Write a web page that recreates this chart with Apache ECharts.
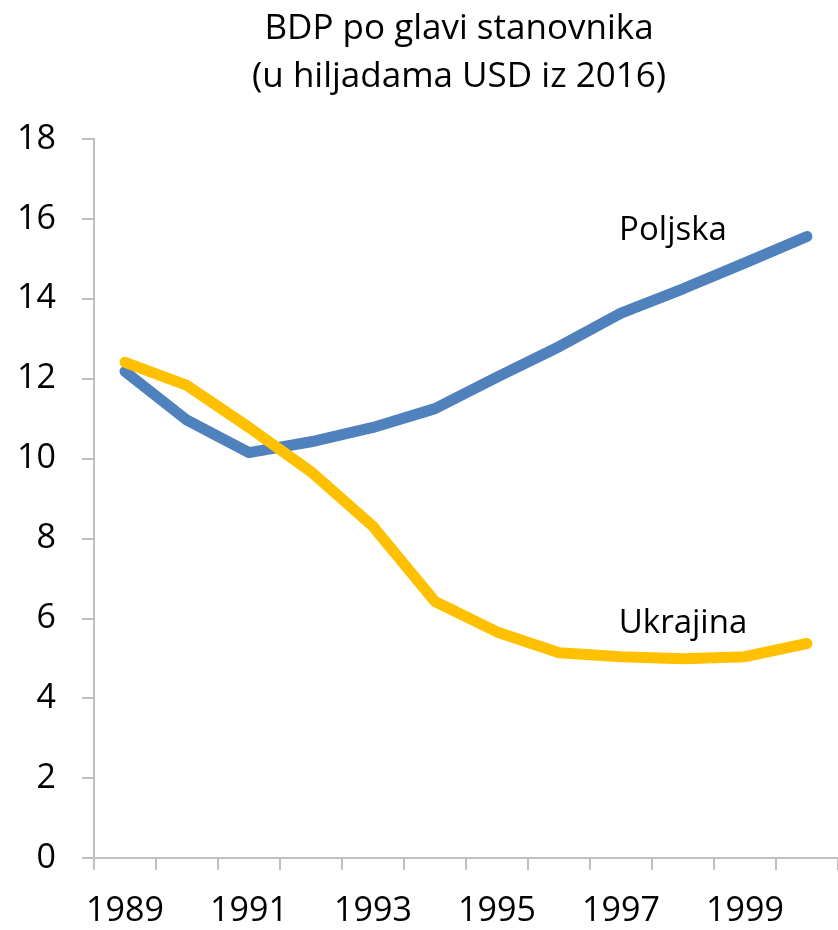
<!DOCTYPE html>
<html>
<head>
<meta charset="utf-8">
<script src="https://cdn.jsdelivr.net/npm/echarts@6/dist/echarts.min.js"></script>
<style>
  html, body { margin: 0; padding: 0; background: #fff; }
  #chart { width: 838px; height: 930px; }
</style>
</head>
<body>
<div id="chart"></div>
<script>
// GDP per capita, thousands of 2016 USD
const years = ['1989','1990','1991','1992','1993','1994','1995','1996','1997','1998','1999','2000'];
const poland = [12.18, 10.96, 10.15, 10.42, 10.78, 11.25, 12.04, 12.8, 13.64, 14.25, 14.9, 15.56];
const ukraine = [12.41, 11.83, 10.78, 9.67, 8.3, 6.42, 5.66, 5.14, 5.04, 4.99, 5.04, 5.37];
const yTicks = { min: 0, max: 18, interval: 2 };
const seriesNames = ['Poljska', 'Ukrajina'];
const labelIndex = 9;

const FONT = '"Open Sans", "Noto Sans", sans-serif';

// series name written above one point of its own line
function withLabel(values, name, dist, dx) {
  return values.map((v, i) => i === labelIndex ? {
    value: v,
    label: {
      show: true, position: 'top', distance: dist, offset: [dx, 0],
      formatter: name, color: '#000', fontSize: 33, fontFamily: FONT
    }
  } : v);
}

const chart = echarts.init(document.getElementById('chart'));
chart.setOption({
  animation: false,
  title: {
    text: 'BDP po glavi stanovnika\n(u hiljadama USD iz 2016)',
    left: 454, top: 0, textAlign: 'center',
    textStyle: { fontFamily: FONT, fontSize: 35, fontWeight: 'normal', color: '#000', lineHeight: 48 }
  },
  grid: { left: 94, right: -9, top: 139, bottom: 72, containLabel: false },
  xAxis: {
    type: 'category',
    data: years,
    boundaryGap: true,
    axisLine: { lineStyle: { color: '#BFBFBF', width: 2 } },
    axisTick: { show: true, interval: 0, length: 12, lineStyle: { color: '#BFBFBF', width: 2 } },
    axisLabel: { interval: 1, margin: 36, fontSize: 34, fontFamily: FONT, color: '#000' },
    splitLine: { show: false }
  },
  yAxis: {
    type: 'value',
    min: yTicks.min, max: yTicks.max, interval: yTicks.interval,
    axisLine: { show: true, lineStyle: { color: '#BFBFBF', width: 2 } },
    axisTick: { show: true, length: 12, lineStyle: { color: '#BFBFBF', width: 2 } },
    axisLabel: { margin: 38, fontSize: 34, fontFamily: FONT, color: '#000' },
    splitLine: { show: false }
  },
  series: [
    {
      name: seriesNames[0], type: 'line',
      data: withLabel(poland, seriesNames[0], 42, -10),
      symbol: 'circle', symbolSize: 0, showSymbol: true,
      lineStyle: { color: '#4F81BD', width: 11, cap: 'round', join: 'round' },
      itemStyle: { color: '#4F81BD' }
    },
    {
      name: seriesNames[1], type: 'line',
      data: withLabel(ukraine, seriesNames[1], 19, 0),
      symbol: 'circle', symbolSize: 0, showSymbol: true,
      lineStyle: { color: '#FFC000', width: 11, cap: 'round', join: 'round' },
      itemStyle: { color: '#FFC000' }
    }
  ]
});
</script>
</body>
</html>
